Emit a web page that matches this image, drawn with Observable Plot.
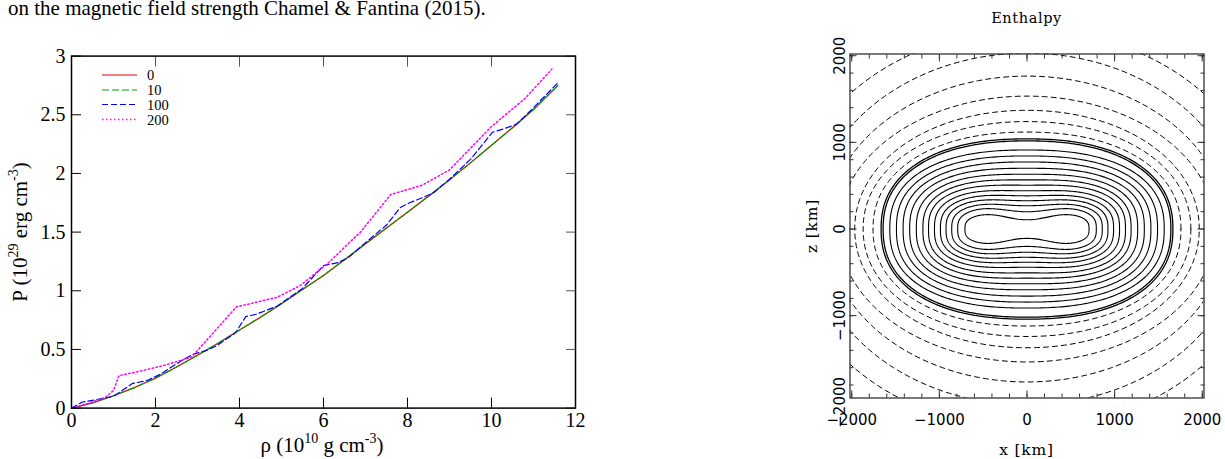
<!DOCTYPE html>
<html>
<head>
<meta charset="utf-8">
<script src="https://cdn.jsdelivr.net/npm/d3@7"></script>
<script src="https://cdn.jsdelivr.net/npm/@observablehq/plot@0.6"></script>
<style>
  html, body { margin: 0; padding: 0; background: #fff; }
  #page { position: relative; width: 1225px; height: 459px; overflow: hidden; background: #fff; }
  #page svg { position: absolute; }
</style>
</head>
<body>
<div id="page"></div>
<script>
// ---------------- Left panel data: P(rho) for several field strengths ----------------
const seriesNames = ["0", "10", "100", "200"];
const seriesColors = ["#e00000", "#00a000", "#0000ff", "#ff00ff"];
const seriesDash = [null, "7,3", "6,3", "1.5,2.5"];
const seriesWidth = [1.2, 1.2, 1.2, 1.5];

const rho0 = [0, 0.5, 1, 1.5, 2, 2.5, 3, 3.5, 4, 4.5, 5, 5.5, 6, 6.5, 7, 7.5, 8, 8.5, 9, 9.5, 10, 10.5, 11, 11.58];
const P0   = [0, 0.045, 0.105, 0.175, 0.255, 0.35, 0.45, 0.555, 0.665, 0.775, 0.89, 1.01, 1.13, 1.265, 1.40, 1.535, 1.67, 1.805, 1.945, 2.09, 2.24, 2.39, 2.545, 2.75];
const rho10 = [0, 0.5, 1, 1.5, 2, 2.5, 3, 3.5, 4, 4.5, 5, 5.5, 6, 6.5, 7, 7.5, 8, 8.5, 9, 9.5, 10, 10.5, 11, 11.58];
const P10   = [0, 0.045, 0.105, 0.175, 0.255, 0.35, 0.45, 0.555, 0.665, 0.775, 0.89, 1.01, 1.13, 1.265, 1.40, 1.535, 1.67, 1.805, 1.945, 2.09, 2.24, 2.39, 2.545, 2.75];
const rho100 = [0, 0.25, 0.55, 1.0, 1.45, 1.8, 2.1, 2.6, 2.9, 3.2, 3.45, 3.9, 4.15, 4.4, 4.9, 5.5, 6.0, 6.35, 6.6, 7.0, 7.5, 7.83, 8.05, 8.6, 9.0, 9.5, 10.02, 10.25, 10.6, 11.0, 11.6];
const P100   = [0, 0.05, 0.07, 0.10, 0.21, 0.235, 0.285, 0.40, 0.46, 0.49, 0.53, 0.64, 0.78, 0.80, 0.87, 1.02, 1.215, 1.24, 1.285, 1.41, 1.56, 1.71, 1.75, 1.83, 1.95, 2.12, 2.35, 2.375, 2.42, 2.56, 2.78];
const rho200 = [0, 0.4, 0.8, 1.0, 1.13, 1.63, 2.2, 2.86, 3.93, 4.26, 4.9, 5.45, 6.09, 6.88, 7.6, 8.35, 9.0, 10.0, 10.8, 11.44];
const P200   = [0, 0.04, 0.09, 0.15, 0.277, 0.315, 0.363, 0.435, 0.864, 0.89, 0.945, 1.045, 1.23, 1.5, 1.82, 1.90, 2.03, 2.40, 2.64, 2.89];

const leftXTicks = [0, 2, 4, 6, 8, 10, 12];
const leftYTicks = [0, 0.5, 1, 1.5, 2, 2.5, 3];
const leftYTickLabels = ["0", "0.5", "1", "1.5", "2", "2.5", "3"];

// ---------------- Right panel data: enthalpy contour sizes (km) ----------------
// half-width along x, half-height along z at x = 0, waist depth, squareness exponent
const solidA = [1566, 1490, 1414, 1339, 1263, 1188, 1124, 1056, 988, 924, 859, 791, 708];
const solidH = [912, 843, 774, 701, 632, 567, 506, 441, 383, 326, 268, 200, 107];
const solidW = [0, 0, 0, 0.01, 0.02, 0.03, 0.04, 0.06, 0.08, 0.11, 0.15, 0.25, 0.45];
const solidP = [2.4, 2.45, 2.5, 2.55, 2.6, 2.65, 2.7, 2.75, 2.8, 2.85, 2.9, 2.95, 3.0];
const surfaceA = [1665, 1642];
const surfaceH = [1040, 1017];
const surfaceP = [2.3, 2.3];
const dashedA = [1757, 1870, 1966, 2150, 2285, 2475, 2750];
const dashedH = [1119, 1240, 1370, 1534, 1765, 2030, 2300];
const dashedP = [2.2, 2.1, 2.05, 2.0, 2.0, 2.0, 2.0];

const rightMajor = [-2000, -1000, 0, 1000, 2000];
const rightMajorLabels = ["\u22122000", "\u22121000", "0", "1000", "2000"];
const rightMinorStep = 200;

// ---------------- Build left panel ----------------
const rhoSets = [rho0, rho10, rho100, rho200];
const PSets = [P0, P10, P100, P200];
const seriesData = rhoSets.map((r, s) => r.map((v, i) => ({rho: v, P: PSets[s][i], s: seriesNames[s]})));

const yLabelMap = new Map(leftYTicks.map((t, i) => [t, leftYTickLabels[i]]));

const left = Plot.plot({
  width: 600, height: 459,
  marginLeft: 71, marginRight: 25, marginTop: 55.6, marginBottom: 51.4,
  x: {domain: [0, 12]},
  y: {domain: [0, 3]},
  style: {fontFamily: "Liberation Serif", fontSize: "20px", color: "black", background: "transparent"},
  marks: [
    ...seriesData.map((d, s) => Plot.line(d, {
      x: "rho", y: "P", stroke: seriesColors[s], strokeWidth: seriesWidth[s],
      strokeDasharray: seriesDash[s] || undefined
    })),
    Plot.axisX({anchor: "bottom", ticks: leftXTicks, tickSize: -10, tickPadding: 15, tickFormat: d => String(d), label: null, stroke: "black"}),
    Plot.axisX({anchor: "top", ticks: leftXTicks, tickSize: -10, tickFormat: () => "", label: null, stroke: "#555"}),
    Plot.axisY({anchor: "left", ticks: leftYTicks, tickSize: -10, tickPadding: 16, tickFormat: d => yLabelMap.get(d), label: null, stroke: "black"}),
    Plot.axisY({anchor: "right", ticks: leftYTicks, tickSize: -10, tickFormat: () => "", label: null, stroke: "#555"}),
    Plot.frame({stroke: "black", strokeWidth: 1.5})
  ]
});
left.style.left = "0px";
left.style.top = "0px";

// ---------------- Build right panel ----------------
function outline(a, h, w, p, id, N = 360) {
  const b = h / (1 - w);
  const pts = [];
  for (let k = 0; k <= N; k++) {
    const t = 2 * Math.PI * k / N;
    const c = Math.cos(t), s = Math.sin(t);
    const x = a * Math.sign(c) * Math.pow(Math.abs(c), 2 / p);
    const z0 = b * Math.sign(s) * Math.pow(Math.abs(s), 2 / p);
    const u = x / a;
    const z = z0 * (1 - w * Math.pow(1 - u * u, 4));
    pts.push({x, z, id});
  }
  return pts;
}
const solidPts = solidA.flatMap((a, i) => outline(a, solidH[i], solidW[i], solidP[i], "s" + i));
const surfacePts = surfaceA.flatMap((a, i) => outline(a, surfaceH[i], 0, surfaceP[i], "b" + i));
const dashedPts = dashedA.flatMap((a, i) => outline(a, dashedH[i], 0, dashedP[i], "d" + i));

const xDom = [-2020, 2020], yDom = [-1950, 2020];
const minorAll = d3.range(-2000, 2001, rightMinorStep);
const inX = v => v >= xDom[0] && v <= xDom[1];
const inY = v => v >= yDom[0] && v <= yDom[1];
const rLabelMap = new Map(rightMajor.map((t, i) => [t, rightMajorLabels[i]]));
const axisStroke = "#333";

const right = Plot.plot({
  width: 445, height: 459,
  marginLeft: 69.5, marginRight: 21.5, marginTop: 53.5, marginBottom: 61.5,
  x: {domain: xDom},
  y: {domain: yDom},
  style: {fontFamily: "DejaVu Sans", fontSize: "15px", color: "black", background: "transparent"},
  marks: [
    Plot.line(dashedPts, {x: "x", y: "z", z: "id", stroke: "black", strokeWidth: 1, strokeDasharray: "5,4", clip: true}),
    Plot.line(solidPts, {x: "x", y: "z", z: "id", stroke: "black", strokeWidth: 1.1, clip: true}),
    Plot.line(surfacePts, {x: "x", y: "z", z: "id", stroke: "black", strokeWidth: 1.3, clip: true}),
    Plot.axisX({anchor: "bottom", ticks: minorAll.filter(inX), tickSize: -4, tickFormat: () => "", label: null, stroke: axisStroke}),
    Plot.axisX({anchor: "top", ticks: minorAll.filter(inX), tickSize: -4, tickFormat: () => "", label: null, stroke: axisStroke}),
    Plot.axisY({anchor: "left", ticks: minorAll.filter(inY), tickSize: -4, tickFormat: () => "", label: null, stroke: axisStroke}),
    Plot.axisY({anchor: "right", ticks: minorAll.filter(inY), tickSize: -4, tickFormat: () => "", label: null, stroke: axisStroke}),
    Plot.axisX({anchor: "bottom", ticks: rightMajor.filter(inX), tickSize: -7, tickPadding: 23, tickFormat: d => rLabelMap.get(d), label: null, stroke: axisStroke}),
    Plot.axisX({anchor: "top", ticks: rightMajor.filter(inX), tickSize: -7, tickFormat: () => "", label: null, stroke: axisStroke}),
    Plot.axisY({anchor: "left", ticks: rightMajor.filter(inY), tickSize: -7, tickFormat: () => "", label: null, stroke: axisStroke}),
    Plot.axisY({anchor: "right", ticks: rightMajor.filter(inY), tickSize: -7, tickFormat: () => "", label: null, stroke: axisStroke}),
    Plot.text(rightMajor, {y: d => d, text: d => rLabelMap.get(d), frameAnchor: "left", rotate: -90, textAnchor: "middle", lineAnchor: "bottom", dx: -5, fontSize: 15}),
    Plot.frame({stroke: axisStroke, strokeWidth: 1.3})
  ]
});
right.style.left = "780px";
right.style.top = "0px";

const page = document.getElementById("page");
page.appendChild(left);
page.appendChild(right);

// ---------------- Overlay texts and legend ----------------
const legendX1 = 102, legendX2 = 137, legendTextX = 147;
const legendRows = [75, 90, 104.5, 119.5];
const legendSvg = seriesNames.map((n, i) => `
  <line x1="${legendX1}" x2="${legendX2}" y1="${legendRows[i]}" y2="${legendRows[i]}" stroke="${seriesColors[i]}" stroke-width="${seriesWidth[i]}" ${seriesDash[i] ? `stroke-dasharray="${seriesDash[i]}"` : ""}/>
  <text x="${legendTextX}" y="${legendRows[i] + 5}" font-size="14.5">${n}</text>`).join("");

const overlay = document.createElementNS("http://www.w3.org/2000/svg", "svg");
overlay.setAttribute("width", 1225);
overlay.setAttribute("height", 459);
overlay.style.left = "0px";
overlay.style.top = "0px";
overlay.setAttribute("font-family", "Liberation Serif");
overlay.innerHTML = `
  <text x="8" y="15" font-size="21">on the magnetic field strength Chamel &amp; Fantina (2015).</text>
  ${legendSvg}
  <text transform="translate(27,232) rotate(-90)" text-anchor="middle" font-size="21">P (10<tspan dy="-9" font-size="14">29</tspan><tspan dy="9"> erg cm</tspan><tspan dy="-9" font-size="14">-3</tspan><tspan dy="9">)</tspan></text>
  <text x="322" y="452" text-anchor="middle" font-size="21">ρ (10<tspan dy="-9" font-size="14">10</tspan><tspan dy="9"> g cm</tspan><tspan dy="-9" font-size="14">-3</tspan><tspan dy="9">)</tspan></text>
  <text x="1026.5" y="22.5" text-anchor="middle" font-family="DejaVu Serif" font-size="14.5" letter-spacing="0.6">Enthalpy</text>
  <text x="1026.5" y="455" text-anchor="middle" font-family="DejaVu Serif" font-size="15.5" letter-spacing="0.8">x [km]</text>
  <text transform="translate(817,226) rotate(-90)" text-anchor="middle" font-family="DejaVu Serif" font-size="15.5" letter-spacing="0.8">z [km]</text>
`;
page.appendChild(overlay);
</script>
</body>
</html>
